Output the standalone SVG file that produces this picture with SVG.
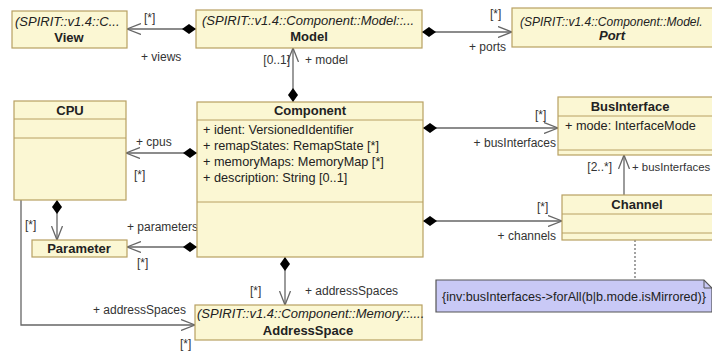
<svg xmlns="http://www.w3.org/2000/svg" width="712" height="354" viewBox="0 0 712 354">
<style>
.cls{fill:#fbf7d3;stroke:#b8a062;stroke-width:1.2}
.div{stroke:#b8a062;stroke-width:1;fill:none}
.t{font-family:"Liberation Sans",Arial,sans-serif;font-size:13px;fill:#222}
.a{font-size:12.7px}
.b{font-weight:bold;text-anchor:middle}
.i{font-style:italic}
.lbl{font-family:"Liberation Sans",Arial,sans-serif;font-size:12px;fill:#333}
.con{stroke:#666;stroke-width:1.3;fill:none}
.note{fill:#c9c9f6;stroke:#555;stroke-width:1.2}
</style>
<defs>
<marker id="open" viewBox="0 0 15 12" refX="14" refY="6" markerWidth="15" markerHeight="12" markerUnits="userSpaceOnUse" orient="auto">
<path d="M0,0.5 L14,6 L0,11.5" fill="none" stroke="#666" stroke-width="1.3"/>
</marker>
<marker id="dia" viewBox="0 0 14 11" refX="0" refY="5.5" markerWidth="14" markerHeight="11" markerUnits="userSpaceOnUse" orient="auto">
<path d="M0,5.5 L7,0.5 L14,5.5 L7,10.5 Z" fill="#000"/>
</marker>
</defs>

<g id="connectors">
<path class="con" d="M196,29 H127" marker-start="url(#dia)" marker-end="url(#open)"/>
<path class="con" d="M422,32 H512" marker-start="url(#dia)" marker-end="url(#open)"/>
<path class="con" d="M293,102 V48" marker-start="url(#dia)" marker-end="url(#open)"/>
<path class="con" d="M197,153 H126" marker-start="url(#dia)" marker-end="url(#open)"/>
<path class="con" d="M197,247 H127" marker-start="url(#dia)" marker-end="url(#open)"/>
<path class="con" d="M57,200 V240" marker-start="url(#dia)" marker-end="url(#open)"/>
<path class="con" d="M423,128 H558" marker-start="url(#dia)" marker-end="url(#open)"/>
<path class="con" d="M423,221 H562" marker-start="url(#dia)" marker-end="url(#open)"/>
<path class="con" d="M624,195 V155" marker-end="url(#open)"/>
<path class="con" d="M285,257 V305" marker-start="url(#dia)" marker-end="url(#open)"/>
<path class="con" d="M21,200 V325 H195" marker-end="url(#open)"/>
<path d="M635,240 V280" stroke="#666" stroke-width="1.2" stroke-dasharray="2,2" fill="none"/>
<text class="lbl" x="144" y="22">[*]</text>
<text class="lbl" x="141" y="61">+ views</text>
<text class="lbl" x="490" y="18">[*]</text>
<text class="lbl" x="469" y="51">+ ports</text>
<text class="lbl" x="290" y="64" text-anchor="end">[0..1]</text>
<text class="lbl" x="305" y="64">+ model</text>
<text class="lbl" x="136" y="146">+ cpus</text>
<text class="lbl" x="134" y="179">[*]</text>
<text class="lbl" x="127" y="231">+ parameters</text>
<text class="lbl" x="137" y="267">[*]</text>
<text class="lbl" x="25" y="229">[*]</text>
<text class="lbl" x="535" y="119">[*]</text>
<text class="lbl" x="556" y="147" text-anchor="end">+ busInterfaces</text>
<text class="lbl" x="537" y="211">[*]</text>
<text class="lbl" x="556" y="240" text-anchor="end">+ channels</text>
<text class="lbl" x="612" y="171" text-anchor="end">[2..*]</text>
<text class="lbl" x="632" y="171" style="font-size:11.4px">+ busInterfaces</text>
<text class="lbl" x="250" y="295">[*]</text>
<text class="lbl" x="305" y="295">+ addressSpaces</text>
<text class="lbl" x="186" y="314" text-anchor="end">+ addressSpaces</text>
<text class="lbl" x="180" y="348">[*]</text>
</g>

<g id="View">
<rect class="cls" x="12" y="11" width="115" height="37"/>
<text class="t i" x="15" y="26">(SPIRIT::v1.4::C...</text>
<text class="t b" x="69" y="42">View</text>
</g>

<g id="Model">
<rect class="cls" x="196" y="10" width="226" height="38"/>
<text class="t i" x="202" y="25">(SPIRIT::v1.4::Component::Model::...</text>
<text class="t b" x="309" y="41">Model</text>
</g>

<g id="Port">
<rect class="cls" x="512" y="8" width="210" height="39"/>
<text class="t i" x="520" y="26" style="font-size:12px">(SPIRIT::v1.4::Component::Model.</text>
<text class="t b i" x="612" y="40">Port</text>
</g>

<g id="CPU">
<rect class="cls" x="14" y="101" width="112" height="99"/>
<path class="div" d="M14,119 H126 M14,138 H126"/>
<text class="t b" x="70" y="115">CPU</text>
</g>

<g id="Parameter">
<rect class="cls" x="32" y="240" width="95" height="17"/>
<text class="t b" x="79" y="253">Parameter</text>
</g>

<g id="Component">
<rect class="cls" x="197" y="102" width="226" height="155"/>
<path class="div" d="M197,120 H423 M197,202 H423"/>
<text class="t b" x="310" y="115">Component</text>
<text class="t a" x="203" y="134">+ ident: VersionedIdentifier</text>
<text class="t a" x="203" y="150">+ remapStates: RemapState [*]</text>
<text class="t a" x="203" y="166">+ memoryMaps: MemoryMap [*]</text>
<text class="t a" x="203" y="182">+ description: String [0..1]</text>
</g>

<g id="BusInterface">
<rect class="cls" x="558" y="97" width="160" height="58"/>
<path class="div" d="M558,116 H718 M558,150 H718"/>
<text class="t b" x="630" y="111">BusInterface</text>
<text class="t a" x="565" y="130">+ mode: InterfaceMode</text>
</g>

<g id="Channel">
<rect class="cls" x="562" y="195" width="156" height="45"/>
<path class="div" d="M562,214 H718 M562,233 H718"/>
<text class="t b" x="637" y="209">Channel</text>
</g>

<g id="AddressSpace">
<rect class="cls" x="195" y="305" width="227" height="35"/>
<text class="t i" x="197" y="318">(SPIRIT::v1.4::Component::Memory::....</text>
<text class="t b" x="308" y="335">AddressSpace</text>
</g>

<g id="Note">
<path class="note" d="M436,280 H704 L712,288 V312 H436 Z"/>
<path d="M704,280 V288 H712" fill="none" stroke="#555" stroke-width="1"/>
<text class="t" x="442" y="301" style="font-size:12.6px">{inv:busInterfaces-&gt;forAll(b|b.mode.isMirrored)}</text>
</g>
</svg>
